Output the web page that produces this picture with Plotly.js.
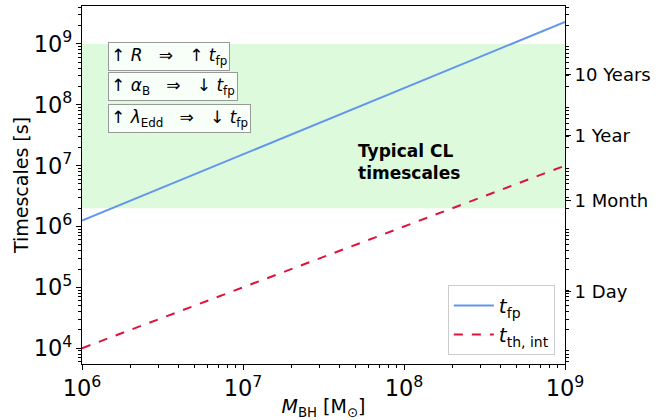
<!DOCTYPE html>
<html><head><meta charset="utf-8">
<script src="https://cdn.plot.ly/plotly-3.0.1.min.js"></script>
<style>html,body{margin:0;padding:0;background:#fff}#chart{width:668px;height:420px}</style>
</head><body><div id="chart"></div>
<script>
// Data
const massBH = [1e6, 1e9];
const tFp = [1.25e6, 2.3e9];
const tThInt = [1e4, 1e7];
const bandLow = 2e6, bandHigh = 1e9;
const rightTickVals = [86400, 2.63e6, 3.156e7, 3.156e8];
const rightTickText = ['1 Day', '1 Month', '1 Year', '10 Years'];
const boxTexts = [
  '↑ <i>R</i>   ⇒   ↑ <i>t</i><sub>fp</sub>',
  '↑ <i>α</i><sub>B</sub>   ⇒   ↓ <i>t</i><sub>fp</sub>',
  '↑ <i>λ</i><sub>Edd</sub>   ⇒   ↓ <i>t</i><sub>fp</sub>'
];

const yRange = [Math.log10(5.5e3), Math.log10(4.2e9)];
const minorVals = [];
for (let n = 3; n <= 9; n++) for (let k = 2; k <= 9; k++) minorVals.push(k * Math.pow(10, n));

const font = {family: 'DejaVu Sans', size: 18, color: '#000'};

const traces = [
  {x: massBH, y: tFp, type: 'scatter', mode: 'lines', name: '<i>t</i><sub>fp</sub>',
   line: {color: '#6495ED', width: 2}},
  {x: massBH, y: tThInt, type: 'scatter', mode: 'lines', name: '<i>t</i><sub>th, int</sub>',
   line: {color: '#DC143C', width: 2, dash: 'dash'}},
  {x: massBH, y: tFp, yaxis: 'y2', type: 'scatter', mode: 'lines', showlegend: false,
   hoverinfo: 'skip', line: {width: 0}, opacity: 0}
];

const boxYs = [0.858, 0.774, 0.687];
const annotations = boxTexts.map((t, i) => ({
  xref: 'paper', yref: 'paper', x: 0.054, y: boxYs[i], xanchor: 'left', yanchor: 'middle',
  text: t, showarrow: false, font: {family: 'DejaVu Sans', size: 17, color: '#000'},
  bgcolor: 'rgba(255,255,255,0.8)', bordercolor: '#999', borderwidth: 1, borderpad: 2
}));
annotations.push({
  xref: 'paper', yref: 'paper', x: 0.567, y: 0.565, xanchor: 'left', yanchor: 'middle',
  text: '<b>Typical CL</b><br><b>timescales</b>', align: 'left', showarrow: false,
  font: {family: 'DejaVu Sans', size: 17, color: '#000'}
});

const layout = {
  width: 668, height: 420,
  margin: {l: 82, r: 103, t: 6, b: 56},
  paper_bgcolor: '#fff', plot_bgcolor: '#fff',
  font: font,
  showlegend: true,
  legend: {x: 0.979, y: 0.025, xanchor: 'right', yanchor: 'bottom', itemwidth: 40,
    bgcolor: 'rgba(255,255,255,0.8)', bordercolor: '#ccc', borderwidth: 1,
    font: {family: 'DejaVu Sans', size: 20, color: '#000'}},
  xaxis: {type: 'log', range: [6, 9], showgrid: false, zeroline: false,
    showline: true, linecolor: '#000', linewidth: 1, mirror: true,
    ticks: 'outside', ticklen: 5, tickcolor: '#000', dtick: 1, exponentformat: 'power',
    tickfont: font,
    minor: {ticks: 'outside', ticklen: 3, tickcolor: '#000', dtick: 'D1', showgrid: false},
    title: {text: '<i>M</i><sub>BH</sub> [M<sub>⊙</sub>]', font: {family: 'DejaVu Sans', size: 19}, standoff: 0}},
  yaxis: {type: 'log', range: yRange, showgrid: false, zeroline: false,
    showline: true, linecolor: '#000', linewidth: 1, mirror: true,
    ticks: 'outside', ticklen: 5, tickcolor: '#000', dtick: 1, exponentformat: 'power',
    tickfont: font,
    minor: {ticks: 'outside', ticklen: 3, tickcolor: '#000', dtick: 'D1', showgrid: false},
    title: {text: 'Timescales [s]', font: {family: 'DejaVu Sans', size: 19}, standoff: 0}},
  yaxis2: {type: 'log', range: yRange, overlaying: 'y', side: 'right', showgrid: false,
    zeroline: false, showline: false, ticks: 'outside', ticklen: 5, tickcolor: '#000',
    tickmode: 'array', tickvals: rightTickVals, ticktext: rightTickText, tickfont: font,
    minor: {ticks: 'outside', ticklen: 3, tickcolor: '#000', tickmode: 'array', tickvals: minorVals, showgrid: false}},
  shapes: [{type: 'rect', xref: 'paper', yref: 'y', x0: 0, x1: 1, y0: bandLow, y1: bandHigh,
    fillcolor: 'rgba(144,238,144,0.3)', line: {width: 0}, layer: 'below'}],
  annotations: annotations
};

Plotly.newPlot('chart', traces, layout, {displayModeBar: false, staticPlot: true});
</script></body></html>
